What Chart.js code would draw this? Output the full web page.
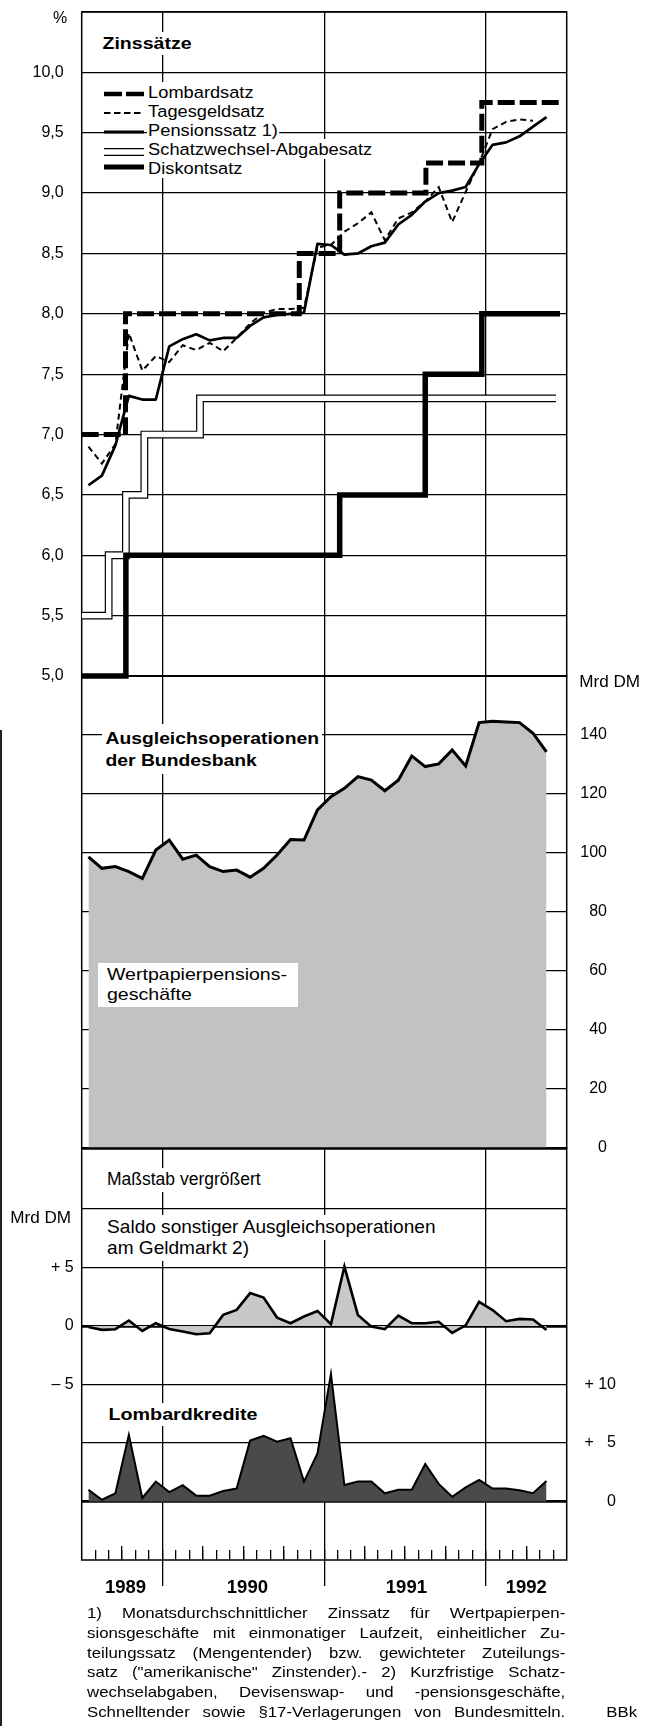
<!DOCTYPE html>
<html>
<head>
<meta charset="utf-8">
<script src="https://cdn.jsdelivr.net/npm/chart.js@4.4.1/dist/chart.umd.min.js"></script>
<style>
  body { margin: 0; background: #fff; }
  #page { position: relative; width: 645px; height: 1726px; overflow: hidden; background: #fff;
          font-family: "Liberation Sans", Arial, sans-serif; color: #000; }
  canvas { position: absolute; left: 0; }
  .t { position: absolute; white-space: nowrap; line-height: 1; background: #fff; padding: 3px; transform-origin: 0 50%; }
  .b { font-weight: bold; }
  .leg { position: absolute; white-space: nowrap; line-height: 1; background: #fff; padding: 2px 1px;
         font-size: 16.3px; transform: scaleX(1.12); transform-origin: 0 50%; }
  .sym { position: absolute; left: 104px; }
  .foot { position: absolute; left: 87px; top: 1603px; width: 427px; font-size: 15px; line-height: 19.8px;
          transform: scaleX(1.12); transform-origin: 0 0; }
  .foot div { text-align: justify; text-align-last: justify; }
</style>
</head>
<body>
<div id="page">
  <canvas id="top" width="645" height="700" style="top:0"></canvas>
  <canvas id="mid" width="645" height="530" style="top:640px"></canvas>
  <canvas id="bot" width="645" height="480" style="top:1130px"></canvas>

  <div style="position:absolute;left:0;top:730px;width:2px;height:996px;background:#222"></div>

  <div class="t" style="left:50px;top:7px;font-size:16px;background:none">%</div>
  <div class="t b" style="left:99px;top:32px;font-size:17px;transform:scaleX(1.15)">Zinssätze</div>

  <svg class="sym" style="top:89px" width="40" height="10"><line x1="0" y1="5" x2="40" y2="5" stroke="#000" stroke-width="4.5" stroke-dasharray="18 4"/></svg>
  <svg class="sym" style="top:108px" width="40" height="10"><line x1="0" y1="5" x2="40" y2="5" stroke="#000" stroke-width="2" stroke-dasharray="6.5 3.5"/></svg>
  <svg class="sym" style="top:127px" width="40" height="10"><line x1="0" y1="5" x2="40" y2="5" stroke="#000" stroke-width="3"/></svg>
  <svg class="sym" style="top:147px" width="40" height="10"><line x1="0" y1="5" x2="40" y2="5" stroke="#000" stroke-width="7.8"/><line x1="0" y1="5" x2="40" y2="5" stroke="#fff" stroke-width="5.4"/></svg>
  <svg class="sym" style="top:162px" width="40" height="10"><line x1="0" y1="5" x2="40" y2="5" stroke="#000" stroke-width="5"/></svg>
  <div class="leg" style="left:147px;top:82px">Lombardsatz</div>
  <div class="leg" style="left:147px;top:101px">Tagesgeldsatz</div>
  <div class="leg" style="left:147px;top:120px">Pensionssatz 1)</div>
  <div class="leg" style="left:147px;top:139px">Schatzwechsel-Abgabesatz</div>
  <div class="leg" style="left:147px;top:158px">Diskontsatz</div>

  <div class="t" style="left:576px;top:671px;font-size:16px;background:none;transform:scaleX(1.07)">Mrd DM</div>
  <div class="t b" style="left:102px;top:724px;font-size:16.5px;line-height:22px;transform:scaleX(1.17);transform-origin:0 0">Ausgleichsoperationen<br>der Bundesbank</div>
  <div style="position:absolute;left:98px;top:963px;width:200px;height:44px;background:#fff">
    <div style="position:absolute;left:9px;top:2px;font-size:17px;line-height:20px;white-space:nowrap;transform:scaleX(1.15);transform-origin:0 0">Wertpapierpensions-<br>geschäfte</div>
  </div>

  <div class="t" style="left:104px;top:1168px;font-size:17.5px">Maßstab vergrößert</div>
  <div class="t" style="left:7px;top:1207px;font-size:16px;background:none;transform:scaleX(1.07)">Mrd DM</div>
  <div class="t" style="left:104px;top:1215px;font-size:18.5px;transform:scaleX(1.03)">Saldo sonstiger Ausgleichsoperationen</div>
  <div class="t" style="left:104px;top:1236px;font-size:18.5px;transform:scaleX(1.03)">am Geldmarkt 2)</div>
  <div class="t b" style="left:105px;top:1403px;font-size:17px;transform:scaleX(1.16)">Lombardkredite</div>

  <div class="foot">
    <div>1) Monatsdurchschnittlicher Zinssatz für Wertpapierpen-</div>
    <div>sionsgeschäfte mit einmonatiger Laufzeit, einheitlicher Zu-</div>
    <div>teilungssatz (Mengentender) bzw. gewichteter Zuteilungs-</div>
    <div>satz ("amerikanische" Zinstender).- 2) Kurzfristige Schatz-</div>
    <div>wechselabgaben, Devisenswap- und -pensionsgeschäfte,</div>
    <div>Schnelltender sowie §17-Verlagerungen von Bundesmitteln.</div>
  </div>
  <div class="t" style="left:603px;top:1701px;font-size:15px;background:none;transform:scaleX(1.12)">BBk</div>
</div>

<script>
// x runs in months counted from 1 July 1989; monthly values sit mid-month (July 1989 .. May 1992)
const yearLabels = ["1989", "1990", "1991", "1992"];
const yearLabelAt = [3.25, 12.3, 24.1, 33];
const yearStarts = [6, 18, 30];
const quarterStarts = [3, 9, 12, 15, 21, 24, 27, 33];
const monthStarts = Array.from({ length: 35 }, (_, i) => i + 1);

// Zinssätze, %
const tagesgeld = [6.90, 6.76, 6.92, 7.84, 7.53, 7.65, 7.60, 7.74, 7.70, 7.76, 7.69, 7.80,
  7.92, 8.01, 8.04, 8.04, 8.05, 8.55, 8.57, 8.68, 8.75, 8.84, 8.61, 8.79,
  8.84, 8.93, 9.05, 8.76, 9.01, 9.25, 9.53, 9.59, 9.61, 9.60, null];
const pension = [6.58, 6.66, 6.91, 7.32, 7.29, 7.29, 7.73, 7.79, 7.83, 7.78, 7.80, 7.80,
  7.90, 7.97, 7.99, 8.00, 8.01, 8.58, 8.57, 8.49, 8.50, 8.56, 8.59, 8.74,
  8.82, 8.93, 9.00, 9.02, 9.05, 9.24, 9.40, 9.42, 9.47, 9.55, 9.63];
// step rates: month of change and new rate
const lombardMonths = [0, 3.25, 16.15, 19.15, 25.55, 29.7, 35.5];
const lombardRates = [7.0, 8.0, 8.5, 9.0, 9.25, 9.75, 9.75];
const diskontMonths = [0, 3.28, 19.15, 25.5, 29.7, 35.5];
const diskontRates = [5.0, 6.0, 6.5, 7.5, 8.0, 8.0];
const schatzMonths = [0, 2.0, 3.28, 4.65, 8.78, 35.2];
const schatzRates = [5.5, 6.0, 6.5, 7.0, 7.3, 7.3];

// Mrd DM
const wertpapier = [98.7, 94.8, 95.4, 93.7, 91.4, 101.0, 104.4, 97.9, 99.3, 95.4, 93.7, 94.2,
  91.8, 94.8, 99.3, 104.6, 104.4, 114.6, 119.1, 121.9, 125.9, 124.7, 121.1, 124.7,
  132.9, 129.3, 130.2, 134.9, 129.5, 144.2, 144.7, 144.4, 144.2, 140.6, 134.3];
const saldo = [-0.1, -0.34, -0.28, 0.46, -0.43, 0.23, -0.26, -0.48, -0.71, -0.63, 0.94, 1.37,
  2.8, 2.42, 0.71, 0.23, 0.8, 1.28, 0.14, 5.07, 0.94, -0.06, -0.28, 0.88,
  0.23, 0.23, 0.35, -0.6, 0.05, 2.05, 1.35, 0.4, 0.6, 0.55, -0.35];
const lombardkredit = [1.0, 0.15, 0.7, 5.7, 0.3, 1.7, 0.8, 1.4, 0.5, 0.5, 0.9, 1.1,
  5.2, 5.6, 5.1, 5.4, 1.7, 4.1, 10.9, 1.4, 1.7, 1.7, 0.7, 1.0,
  1.0, 3.2, 1.5, 0.4, 1.2, 1.85, 1.1, 1.1, 0.95, 0.7, 1.75];

Chart.defaults.font.family = '"Liberation Sans", Arial, sans-serif';
Chart.defaults.font.size = 16;
Chart.defaults.color = "#000";

const monthly = (arr) => arr.map((v, i) => ({ x: i + 0.5, y: v }));
const steps = (months, rates) => months.map((m, i) => ({ x: m, y: rates[i] }));
const comma = (v) => v.toFixed(1).replace(".", ",");

// fixed axis size, and no label overhang added to the layout
const fixW = (w) => (s) => { s.width = w; s.paddingTop = s.paddingBottom = s.paddingLeft = s.paddingRight = 0; };
const fixH = (h) => (s) => { s.height = h; s.paddingTop = s.paddingBottom = s.paddingLeft = s.paddingRight = 0; };

const frame = {
  id: "frame",
  beforeDatasetsDraw(chart) {
    const { left, right, top, bottom } = chart.chartArea;
    const ctx = chart.ctx;
    ctx.save();
    ctx.strokeStyle = "#000";
    ctx.lineWidth = 1.5;
    ctx.strokeRect(left, top, right - left, bottom - top);
    ctx.restore();
  },
};

const baseOptions = (padding) => ({
  responsive: false,
  animation: false,
  events: [],
  layout: { padding, autoPadding: false },
  plugins: { legend: { display: false }, tooltip: { enabled: false } },
  elements: { point: { radius: 0 }, line: { tension: 0 } },
});

const yearAxis = (extra) => ({
  type: "linear",
  min: 0,
  max: 36,
  afterBuildTicks: (s) => { s.ticks = yearStarts.map((v) => ({ value: v })); },
  afterFit: fixH(0),
  ticks: { display: false },
  border: { display: false },
  grid: Object.assign({ color: "#000", lineWidth: 1.3, drawTicks: false }, extra || {}),
});

// Zinssätze
new Chart(document.getElementById("top"), {
  type: "line",
  data: {
    datasets: [
      { data: monthly(tagesgeld), borderColor: "#000", borderWidth: 2, borderDash: [6, 4] },
      { data: monthly(pension), borderColor: "#000", borderWidth: 2.7, borderJoinStyle: "round" },
      { data: steps(lombardMonths, lombardRates), borderColor: "#000", borderWidth: 5,
        borderDash: [17, 5], stepped: "before", borderJoinStyle: "miter" },
      { data: steps(diskontMonths, diskontRates), borderColor: "#000", borderWidth: 5.5,
        stepped: "before", borderJoinStyle: "miter", clip: false },
      { data: steps(schatzMonths, schatzRates), borderColor: "#fff", borderWidth: 5.4,
        stepped: "before", borderJoinStyle: "miter" },
      { data: steps(schatzMonths, schatzRates), borderColor: "#000", borderWidth: 7.8,
        stepped: "before", borderJoinStyle: "miter" },
    ],
  },
  options: Object.assign(baseOptions({ left: 0, right: 78.3, top: 12, bottom: 24 }), {
    scales: {
      x: yearAxis(),
      y: {
        min: 5,
        max: 10.5,
        afterFit: fixW(81.7),
        border: { display: false },
        grid: { color: "#000", lineWidth: 1.3, drawTicks: false },
        ticks: { stepSize: 0.5, padding: 18, callback: (v) => (v > 10.2 ? "" : comma(v)) },
      },
    },
  }),
  plugins: [frame],
});

// Ausgleichsoperationen der Bundesbank
new Chart(document.getElementById("mid"), {
  type: "line",
  data: {
    datasets: [
      { data: monthly(wertpapier), borderColor: "#000", borderWidth: 3,
        backgroundColor: "#c2c2c2", fill: "origin" },
    ],
  },
  options: Object.assign(baseOptions({ left: 81.7, right: 38, top: 36, bottom: 22 }), {
    scales: {
      x: yearAxis(),
      y: {
        position: "right",
        min: 0,
        max: 160,
        afterFit: fixW(40.3),
        border: { display: false },
        grid: { color: "#000", drawTicks: false,
          lineWidth: (c) => (c.tick.value === 0 ? 2.8 : 1.3) },
        ticks: { stepSize: 20, padding: 0, crossAlign: "far",
          callback: (v) => (v >= 160 ? "" : String(v)) },
      },
    },
  }),
  plugins: [frame],
});

// Saldo sonstiger Ausgleichsoperationen / Lombardkredite
new Chart(document.getElementById("bot"), {
  type: "line",
  data: {
    datasets: [
      { data: monthly(saldo), yAxisID: "ys", borderColor: "#000", borderWidth: 2.6,
        backgroundColor: "#c8c8c8", fill: "origin" },
      { data: monthly(lombardkredit), yAxisID: "yl", borderColor: "#000", borderWidth: 2,
        backgroundColor: "#4a4a4a", fill: "origin" },
    ],
  },
  options: Object.assign(baseOptions({ left: 0, right: 29, top: 18, bottom: 10 }), {
    scales: {
      x: yearAxis({ drawTicks: true, tickLength: 26 }),
      xm: {
        type: "linear", position: "bottom", min: 0, max: 36,
        afterBuildTicks: (s) => { s.ticks = monthStarts.map((v) => ({ value: v })); },
        afterFit: fixH(0),
        ticks: { display: false },
        border: { display: false },
        grid: { drawOnChartArea: false, color: "#000", lineWidth: 1.3, tickLength: -10 },
      },
      xq: {
        type: "linear", position: "bottom", min: 0, max: 36,
        afterBuildTicks: (s) => { s.ticks = quarterStarts.map((v) => ({ value: v })); },
        afterFit: fixH(0),
        ticks: { display: false },
        border: { display: false },
        grid: { drawOnChartArea: false, color: "#000", lineWidth: 1.3, tickLength: -14 },
      },
      xl: {
        type: "linear", position: "bottom", min: 0, max: 36,
        afterBuildTicks: (s) => { s.ticks = yearLabelAt.map((v) => ({ value: v })); },
        afterFit: fixH(40),
        border: { display: false },
        grid: { display: false },
        ticks: { padding: 9, maxRotation: 0, autoSkip: false,
          font: { size: 18.5, weight: "bold" },
          callback: (v) => yearLabels[yearLabelAt.indexOf(v)] },
      },
      ys: {
        position: "left", min: -20, max: 15.2,
        afterBuildTicks: (s) => { s.ticks = [-5, 0, 5, 10].map((v) => ({ value: v })); },
        afterFit: fixW(81.7),
        border: { display: false },
        grid: { color: "#000", drawTicks: false,
          lineWidth: (c) => (c.tick.value === 0 ? 2.8 : 1.3) },
        ticks: { padding: 8,
          callback: (v) => (v === 10 ? "" : v > 0 ? "+ " + v : v < 0 ? "\u2013 " + -v : "0") },
      },
      yl: {
        position: "right", min: -5, max: 30.2,
        afterBuildTicks: (s) => { s.ticks = [0, 5, 10].map((v) => ({ value: v })); },
        afterFit: fixW(49.3),
        border: { display: false },
        grid: { color: "#000", drawTicks: false,
          lineWidth: (c) => (c.tick.value === 0 ? 2.8 : c.tick.value === 5 ? 1.3 : 0) },
        ticks: { padding: 0, crossAlign: "far",
          callback: (v) => (v === 0 ? "0" : v < 10 ? "+ \u2007" + v : "+ " + v) },
      },
    },
  }),
  plugins: [frame],
});
</script>
</body>
</html>
